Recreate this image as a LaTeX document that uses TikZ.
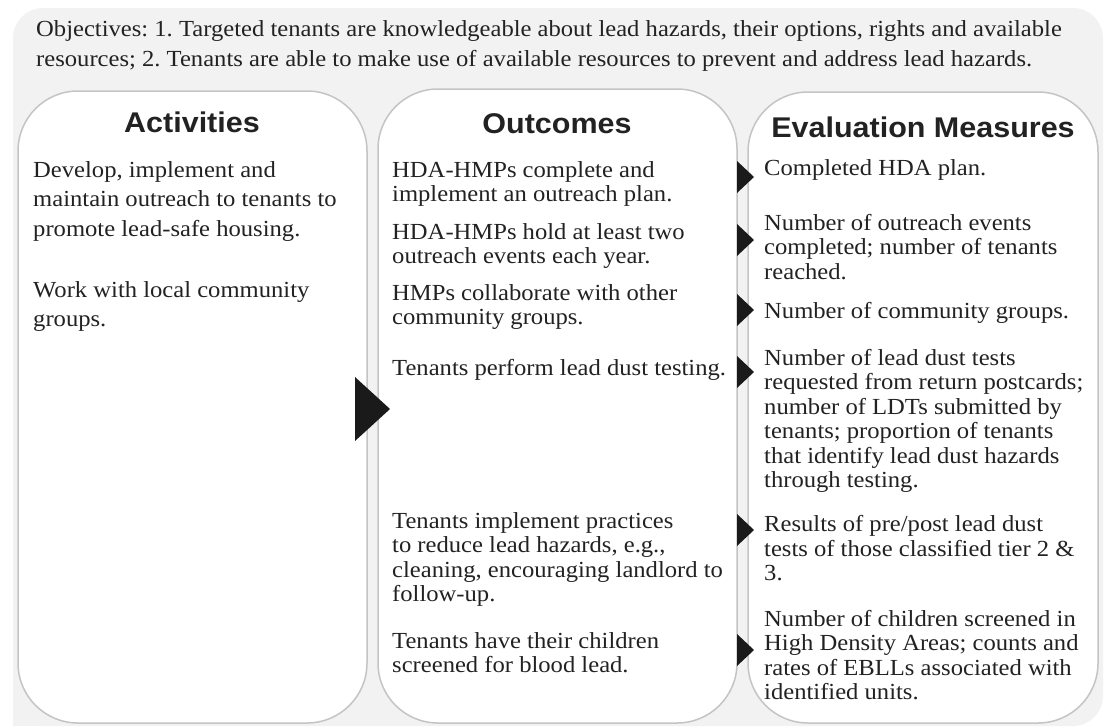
\documentclass[tikz,border=0pt]{standalone}
\usepackage{fontspec}
\setmainfont{Liberation Serif}[FakeStretch=1.07]
\newfontfamily\headfont{Liberation Sans}[FakeStretch=1.07]
\definecolor{bggray}{HTML}{F2F2F2}
\definecolor{edge}{HTML}{C4C4C4}
\definecolor{ink}{HTML}{222222}
\definecolor{tri}{HTML}{1A1A1A}
\frenchspacing
\begin{document}
% multi-line nodes are placed by the baseline of their last line
\begin{tikzpicture}[x=1pt,y=-1pt,
  panel/.style={draw=edge, line width=1.5pt, fill=white, rounded corners=60pt},
  head/.style={font=\headfont\bfseries\fontsize{28.5}{30}\selectfont, text=ink, anchor=base, inner sep=0pt},
  objtext/.style={font=\fontsize{23}{30}\selectfont, text=ink, anchor=base west, align=left, inner sep=0pt},
  acttext/.style={font=\fontsize{23}{29.5}\selectfont, text=ink, anchor=base west, align=left, inner sep=0pt},
  body/.style={font=\fontsize{23}{24.5}\selectfont, text=ink, anchor=base west, align=left, inner sep=0pt},
  pointer/.style={fill=tri}
]
\useasboundingbox (0,0) rectangle (1105,726);

% grey backdrop
\fill[bggray, rounded corners=30pt] (13,8) rectangle (1103,726);
\fill[bggray] (13,680) rectangle (60,726);

% objectives
\node[objtext] (obj) at (36,66) {Objectives: 1. Targeted tenants are knowledgeable about lead hazards, their options, rights and available\\resources; 2. Tenants are able to make use of available resources to prevent and address lead hazards.};

% three columns
\draw[panel] (18,91) rectangle (367,723);
\draw[panel] (378,89) rectangle (737,723);
\draw[panel] (748,92) rectangle (1098,723);

\node[head] (hact) at (192,132) {Activities};
\node[head] (hout) at (557,133) {Outcomes};
\node[head] (heval) at (923,137) {Evaluation Measures};

% activities
\node[acttext] (a1) at (33,236) {Develop, implement and\\maintain outreach to tenants to\\promote lead-safe housing.};
\node[acttext] (a2) at (33,326.5) {Work with local community\\groups.};

% outcomes
\node[body] (o1) at (392,201.5) {HDA-HMPs complete and\\implement an outreach plan.};
\node[body] (o2) at (392,263.5) {HDA-HMPs hold at least two\\outreach events each year.};
\node[body] (o3) at (392,324.5) {HMPs collaborate with other\\community groups.};
\node[body] (o4) at (392,375) {Tenants perform lead dust testing.};
\node[body] (o5) at (392,601.5) {Tenants implement practices\\to reduce lead hazards, e.g.,\\cleaning, encouraging landlord to\\follow-up.};
\node[body] (o6) at (392,672.5) {Tenants have their children\\screened for blood lead.};

% evaluation measures
\node[body] (e1) at (764,175) {Completed HDA plan.};
\node[body] (e2) at (764,279) {Number of outreach events\\completed; number of tenants\\reached.};
\node[body] (e3) at (764,318) {Number of community groups.};
\node[body] (e4) at (764,487.5) {Number of lead dust tests\\requested from return postcards;\\number of LDTs submitted by\\tenants; proportion of tenants\\that identify lead dust hazards\\through testing.};
\node[body] (e5) at (764,580.5) {Results of pre/post lead dust\\tests of those classified tier 2 \&\\3.};
\node[body] (e6) at (764,699.5) {Number of children screened in\\High Density Areas; counts and\\rates of EBLLs associated with\\identified units.};

% flow pointers
\fill[pointer] (355,377) -- (390,409) -- (355,441) -- cycle;
\foreach \t in {177,240,310,372,530,650}
  \fill[pointer] (737,\t-16) -- (754,\t) -- (737,\t+16) -- cycle;
\end{tikzpicture}
\end{document}
